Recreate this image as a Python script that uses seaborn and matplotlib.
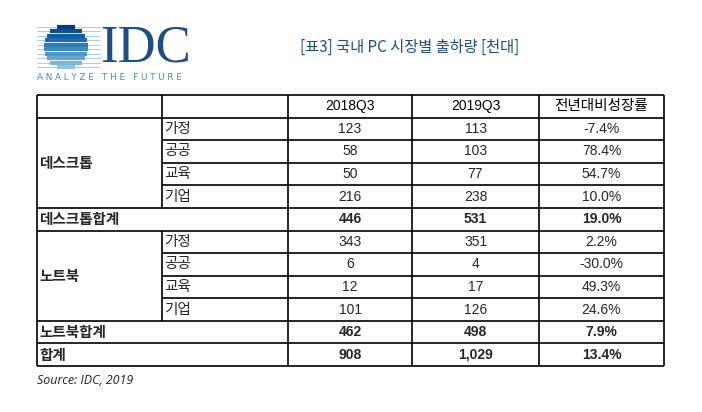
import numpy as np
import matplotlib.pyplot as plt
import seaborn as sns
from matplotlib import font_manager

sns.set_theme(style='white')

title = '[표3] 국내 PC 시장별 출하량 [천대]'
col_labels = ['2018Q3', '2019Q3', '전년대비성장률']
segments = ['가정', '공공', '교육', '기업']
desktop_2018 = [123, 58, 50, 216]
desktop_2019 = [113, 103, 77, 238]
desktop_growth = ['-7.4%', '78.4%', '54.7%', '10.0%']
desktop_total = ['446', '531', '19.0%']
notebook_2018 = [343, 6, 12, 101]
notebook_2019 = [351, 4, 17, 126]
notebook_growth = ['2.2%', '-30.0%', '49.3%', '24.6%']
notebook_total = ['462', '498', '7.9%']
grand_total = ['908', '1,029', '13.4%']

names = {f.name for f in font_manager.fontManager.ttflist}
KR = next((n for n in ['Noto Sans CJK KR', 'Noto Sans CJK JP', 'Noto Sans CJK SC']
           if n in names), 'DejaVu Sans')
NUM = 'Liberation Sans'

fig = plt.figure(figsize=(7.02, 4.12), dpi=100)
ax = fig.add_axes([0, 0, 1, 1])
ax.set_xlim(0, 702)
ax.set_ylim(412, 0)
ax.axis('off')

# logo
cx, cy, r = 66, 47, 22
blues = plt.cm.Blues
for i, y in enumerate(np.linspace(cy - r + 2, cy + r - 2, 10)):
    ax.plot([37, 100], [y, y], color='#9dc3e6', lw=0.6)
    half = np.sqrt(max(r ** 2 - (y - cy) ** 2, 0))
    ax.plot([cx - half, cx + half], [y, y], color=blues(0.95 - i * 0.06), lw=3.0,
            solid_capstyle='butt')
ax.text(100, 48, 'IDC', fontsize=38, family='Liberation Serif', color='#1c4f86',
        va='center', ha='left')
ax.text(37, 77, 'A N A L Y Z E   T H E   F U T U R E', fontsize=6.3, family='DejaVu Sans',
        color='#3d8fc6', va='center', ha='left')
ax.text(300, 47, title, fontsize=11, family=KR, color='#1c4f86', va='center', ha='left')

# table grid
xs = [37, 162, 288, 412, 539, 664]
top, rh = 95, (366 - 95) / 12
ys = [top + i * rh for i in range(13)]
lw = 1.2
ax.hlines([ys[i] for i in (0, 1, 5, 6, 10, 11, 12)], xs[0], xs[-1], color='black', lw=lw)
ax.hlines([ys[i] for i in (2, 3, 4, 7, 8, 9)], xs[1], xs[-1], color='black', lw=lw)
ax.vlines([xs[0], xs[2], xs[3], xs[4], xs[5]], ys[0], ys[12], color='black', lw=lw)
ax.vlines(xs[1], ys[0], ys[5], color='black', lw=lw)
ax.vlines(xs[1], ys[6], ys[10], color='black', lw=lw)

def mid(i):
    return (ys[i] + ys[i + 1]) / 2

def centers(j):
    return (xs[j] + xs[j + 1]) / 2

fs = 10
kfs = 10.5
for j, lab in enumerate(col_labels):
    ax.text(centers(j + 2), mid(0), lab, fontsize=kfs if j == 2 else fs,
            family=KR if j == 2 else NUM, ha='center', va='center', color='black')

def group(start, name, v18, v19, gr, total):
    ax.text(xs[0] + 2, (ys[start] + ys[start + 4]) / 2, name, fontsize=kfs, family=KR,
            fontweight='bold', ha='left', va='center')
    for k, seg in enumerate(segments):
        row = start + k
        ax.text(xs[1] + 2, mid(row), seg, fontsize=kfs, family=KR, ha='left', va='center')
        for j, v in enumerate([str(v18[k]), str(v19[k]), gr[k]]):
            ax.text(centers(j + 2), mid(row), v, fontsize=fs, family=NUM, ha='center', va='center')
    ax.text(xs[0] + 2, mid(start + 4), name + '합계', fontsize=kfs, family=KR,
            fontweight='bold', ha='left', va='center')
    for j, v in enumerate(total):
        ax.text(centers(j + 2), mid(start + 4), v, fontsize=fs, family=NUM,
                fontweight='bold', ha='center', va='center')

group(1, '데스크톱', desktop_2018, desktop_2019, desktop_growth, desktop_total)
group(6, '노트북', notebook_2018, notebook_2019, notebook_growth, notebook_total)
ax.text(xs[0] + 2, mid(11), '합계', fontsize=kfs, family=KR, fontweight='bold', ha='left', va='center')
for j, v in enumerate(grand_total):
    ax.text(centers(j + 2), mid(11), v, fontsize=fs, family=NUM, fontweight='bold',
            ha='center', va='center')

ax.text(37, 381, 'Source: IDC, 2019', fontsize=9, family='Open Sans', style='italic',
        ha='left', va='center')

fig.savefig('out.png', dpi=100)
